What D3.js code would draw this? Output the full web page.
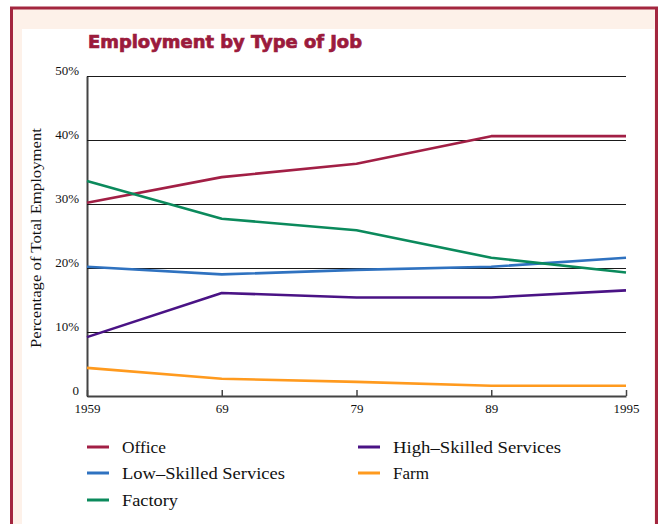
<!DOCTYPE html>
<html>
<head>
<meta charset="utf-8">
<script src="https://cdn.jsdelivr.net/npm/d3@7"></script>
<style>
  html, body { margin: 0; padding: 0; background: #fff; }
  svg { display: block; }
</style>
</head>
<body>
<svg></svg>
<script>
// data
const years = ["1959", "69", "79", "89", "1995"];
const office = [30.2, 34.2, 36.3, 40.6, 40.6];
const lowSkilled = [20.2, 19.0, 19.7, 20.2, 21.6];
const factory = [33.6, 27.7, 25.9, 21.6, 19.3];
const highSkilled = [9.2, 16.1, 15.4, 15.4, 16.5];
const farm = [4.4, 2.7, 2.2, 1.6, 1.6];
const yTicks = [0, 10, 20, 30, 40, 50];

const series = [
  { name: "Office", values: office, color: "#a21f45" },
  { name: "Low\u2013Skilled Services", values: lowSkilled, color: "#2f72c0" },
  { name: "Factory", values: factory, color: "#0b8a5c" },
  { name: "High\u2013Skilled Services", values: highSkilled, color: "#4a1385" },
  { name: "Farm", values: farm, color: "#ff9a1e" }
];

const width = 662, height = 524;
const svg = d3.select('svg').attr('width', width).attr('height', height);

// frame
svg.append('rect').attr('x', 11.5).attr('y', 8).attr('width', 645).attr('height', 530)
  .attr('fill', '#fdf1e9').attr('stroke', '#a3263f').attr('stroke-width', 3);
svg.append('rect').attr('x', 22).attr('y', 29).attr('width', 632).attr('height', 500)
  .attr('fill', '#fff');

// title
svg.append('text').attr('x', 88).attr('y', 48)
  .attr('font-family', 'DejaVu Sans, Arial, sans-serif').attr('font-weight', 'bold')
  .attr('font-size', 17).attr('fill', '#9b1b3c')
  .attr('stroke', '#9b1b3c').attr('stroke-width', 0.7)
  .attr('textLength', 274).attr('lengthAdjust', 'spacingAndGlyphs')
  .text('Employment by Type of Job');

const x = d3.scalePoint().domain(years).range([87, 626]);
const y = d3.scaleLinear().domain([0, 50]).range([396, 76]);

// y axis + gridlines
const yAxis = svg.append('g').attr('transform', 'translate(87,0)')
  .call(d3.axisLeft(y).tickValues(yTicks).tickFormat(d => d === 0 ? '0' : d + '%')
    .tickSize(-539).tickSizeOuter(0).tickPadding(8));
yAxis.select('.domain').attr('stroke', '#444').attr('stroke-width', 2);
yAxis.selectAll('.tick line').attr('stroke', '#1a1a1a').attr('stroke-width', 1.2);
yAxis.selectAll('.tick text')
  .attr('font-family', 'Liberation Serif, DejaVu Serif, serif').attr('font-size', 13)
  .attr('fill', '#111').attr('dy', '-0.15em');

// x axis
const xAxis = svg.append('g').attr('transform', 'translate(0,396)')
  .call(d3.axisBottom(x).tickSize(-6).tickSizeOuter(0).tickPadding(8));
xAxis.select('.domain').attr('stroke', '#444').attr('stroke-width', 2);
xAxis.selectAll('.tick line').attr('stroke', '#444').attr('stroke-width', 1.5);
xAxis.selectAll('.tick text')
  .attr('font-family', 'Liberation Serif, DejaVu Serif, serif').attr('font-size', 13)
  .attr('fill', '#111');

// y axis title
svg.append('text').attr('transform', 'translate(41,238) rotate(-90)')
  .attr('text-anchor', 'middle')
  .attr('font-family', 'Liberation Serif, DejaVu Serif, serif').attr('font-size', 14)
  .attr('fill', '#111').attr('textLength', 220).attr('lengthAdjust', 'spacingAndGlyphs')
  .text('Percentage of Total Employment');

// lines
const line = d3.line().x((d, i) => x(years[i])).y(d => y(d));
svg.append('g').selectAll('path').data(series).join('path')
  .attr('d', d => line(d.values))
  .attr('fill', 'none').attr('stroke', d => d.color).attr('stroke-width', 2.6)
  .attr('stroke-linejoin', 'round');

// legend
const legendPos = [[87, 447], [87, 473], [87, 500], [358, 447], [358, 473]];
const legendLen = { "Office": 44, "Low\u2013Skilled Services": 163, "Factory": 56, "High\u2013Skilled Services": 168, "Farm": 36 };
const lg = svg.append('g').selectAll('g').data(series).join('g')
  .attr('transform', (d, i) => `translate(${legendPos[i][0]},${legendPos[i][1]})`);
lg.append('line').attr('x1', 0).attr('x2', 22).attr('y1', 0).attr('y2', 0)
  .attr('stroke', d => d.color).attr('stroke-width', 3);
lg.append('text').attr('x', 35).attr('y', 5.5)
  .attr('font-family', 'Liberation Serif, DejaVu Serif, serif').attr('font-size', 16)
  .attr('fill', '#111')
  .attr('textLength', d => legendLen[d.name]).attr('lengthAdjust', 'spacingAndGlyphs')
  .text(d => d.name);
</script>
</body>
</html>
